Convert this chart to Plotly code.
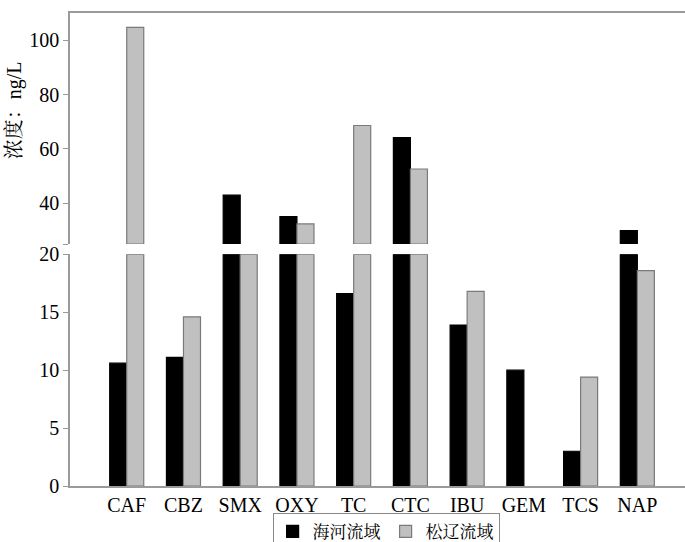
import plotly.graph_objects as go

categories = ["CAF", "CBZ", "SMX", "OXY", "TC", "CTC", "IBU", "GEM", "TCS", "NAP"]
haihe = [10.6, 11.1, 43.0, 35.1, 16.6, 64.2, 13.9, 10.0, 3.0, 29.9]
songliao = [104.7, 14.6, 22.0, 32.4, 68.6, 52.6, 16.8, 0.0, 9.4, 18.6]
series_names = ["海河流域", "松辽流域"]

LOW_MAX = 20
UP_MIN = 25
UP_MAX = 110

FONT = "Liberation Serif, Noto Serif CJK SC, Noto Sans CJK SC, serif"
AXC = "#9a9a9a"

styles = [dict(fill="#000000", line="#000000"), dict(fill="#c0c0c0", line="#7a7a7a")]

fig = go.Figure()
for name, vals, st in zip(series_names, [haihe, songliao], styles):
    low = [min(v, LOW_MAX) if v > 0 else None for v in vals]
    fig.add_trace(go.Bar(x=categories, y=low, name=name, xaxis="x", yaxis="y",
                         marker=dict(color=st["fill"], line=dict(color=st["line"], width=1.2)),
                         legendgroup=name, showlegend=True))
for name, vals, st in zip(series_names, [haihe, songliao], styles):
    up = [(v - UP_MIN) if v > UP_MIN else None for v in vals]
    fig.add_trace(go.Bar(x=categories, y=up, base=UP_MIN, name=name, xaxis="x2", yaxis="y2",
                         marker=dict(color=st["fill"], line=dict(color=st["line"], width=1.2)),
                         legendgroup=name, showlegend=False))

low_top = 0.4898
up_bot = 0.5116

tf = dict(family=FONT, size=20, color="black")

fig.update_layout(
    width=685, height=542,
    margin=dict(l=70, r=0, t=13, b=56, autoexpand=False),
    paper_bgcolor="white", plot_bgcolor="white",
    barmode="group", bargap=0.4, bargroupgap=0,
    font=dict(family=FONT, size=20, color="black"),
    xaxis=dict(domain=[0, 1], anchor="y", type="category", range=[-1, 9.84],
               showline=True, linecolor=AXC, linewidth=1.5, ticks="",
               showgrid=False, zeroline=False, tickfont=tf, automargin=False),
    xaxis2=dict(domain=[0, 1], anchor="y2", type="category", range=[-1, 9.84],
                side="top", showline=True, linecolor=AXC, linewidth=1.5,
                showticklabels=False, ticks="", showgrid=False, zeroline=False),
    yaxis=dict(domain=[0, low_top], anchor="x", range=[0, LOW_MAX],
               tickvals=[0, 5, 10, 15, 20], showline=True, linecolor=AXC, linewidth=1.5,
               ticks="outside", ticklen=5, tickcolor=AXC, showgrid=False, zeroline=False,
               tickfont=tf, automargin=False),
    yaxis2=dict(domain=[up_bot, 1], anchor="x2", range=[UP_MIN, UP_MAX],
                tickvals=[UP_MIN, 40, 60, 80, 100], ticktext=["", "40", "60", "80", "100"],
                showline=True, linecolor=AXC, linewidth=1.5,
                ticks="outside", ticklen=5, tickcolor=AXC, showgrid=False, zeroline=False,
                tickfont=tf, automargin=False),
    legend=dict(orientation="h", x=0.514, xanchor="center", yref="container", y=0.054, yanchor="top",
                bordercolor="#8a8a8a", borderwidth=1, bgcolor="white",
                font=dict(family=FONT, size=17, color="black"), itemwidth=30, tracegroupgap=0),
    annotations=[dict(text="浓度：ng/L", xref="paper", yref="paper", x=-0.089, y=0.795,
                      xanchor="center", yanchor="middle", textangle=-90, showarrow=False,
                      font=dict(family=FONT, size=20, color="black"))],
)

fig.write_html("out.html")
